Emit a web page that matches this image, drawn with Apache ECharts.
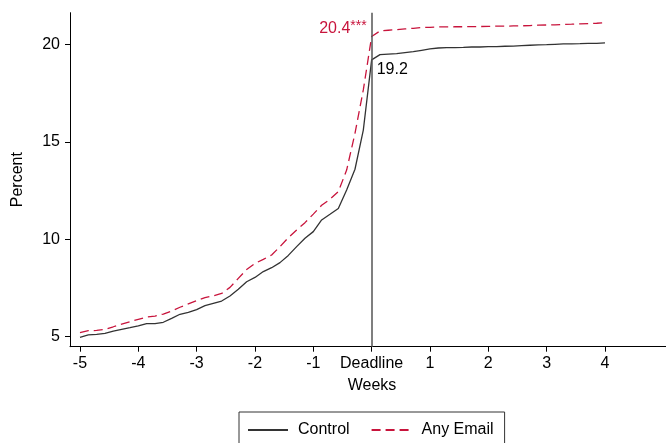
<!DOCTYPE html>
<html>
<head>
<meta charset="utf-8">
<script src="https://cdn.jsdelivr.net/npm/echarts@6/dist/echarts.min.js"></script>
<style>html,body{margin:0;padding:0;background:#fff}#c{width:666px;height:443px}</style>
</head>
<body>
<div id="c"></div>
<script>
// Days relative to the deadline (converted to weeks for the x axis)
const days = [-35,-34,-33,-32,-31,-30,-29,-28,-27,-26,-25,-24,-23,-22,-21,-20,-19,-18,-17,-16,-15,-14,-13,-12,-11,-10,-9,-8,-7,-6,-5,-4,-3,-2,-1,
  0,1,2,3,4,5,6,7,8,9,10,11,12,13,14,15,16,17,18,19,20,21,22,23,24,25,26,27,28];
const controlValues = [4.97,5.09,5.12,5.17,5.29,5.38,5.46,5.55,5.67,5.67,5.74,5.94,6.15,6.25,6.39,6.59,6.71,6.83,7.09,7.43,7.82,8.04,8.34,8.54,8.80,9.17,9.62,10.05,10.39,10.99,11.28,11.58,12.53,13.59,15.60,
  19.2,19.47,19.50,19.52,19.57,19.62,19.69,19.76,19.81,19.83,19.83,19.84,19.86,19.86,19.88,19.88,19.90,19.91,19.93,19.95,19.97,19.98,20.00,20.02,20.02,20.03,20.05,20.05,20.07];
const emailValues = [5.21,5.31,5.32,5.38,5.51,5.65,5.77,5.89,6.01,6.06,6.16,6.32,6.51,6.68,6.85,7.00,7.10,7.22,7.53,7.99,8.45,8.76,8.97,9.19,9.62,10.08,10.47,10.85,11.29,11.74,12.05,12.44,13.55,15.43,17.66,
  20.4,20.68,20.72,20.75,20.79,20.82,20.86,20.87,20.89,20.89,20.90,20.90,20.91,20.91,20.92,20.93,20.93,20.94,20.95,20.96,20.98,20.99,21.00,21.02,21.03,21.05,21.06,21.08,21.11];
const xTicks = [-5,-4,-3,-2,-1,0,1,2,3,4];
const xTickLabels = ['-5','-4','-3','-2','-1','Deadline','1','2','3','4'];
const yTicks = [5,10,15,20];
const seriesNames = ['Control','Any Email'];
const deadlineStars = '***';

const RED = '#c8143c';
const DARK = '#333333';
const FONT = '"Liberation Sans", Arial, Helvetica, sans-serif';

function build(values, isEmail) {
  return days.map((d, i) => {
    const item = { value: [d / 7, values[i]] };
    if (d === 0) {
      if (isEmail) {
        item.label = {
          show: true, position: 'left', distance: 5, offset: [0, -8],
          formatter: '{a|' + values[i].toFixed(1) + '}{b|' + deadlineStars + '}',
          rich: {
            a: { fontSize: 16, color: RED, fontFamily: FONT },
            b: { fontSize: 14, color: RED, fontFamily: FONT, padding: [0, 0, 5, 0] }
          }
        };
      } else {
        item.label = {
          show: true, position: 'right', distance: 5, offset: [0, 10],
          formatter: values[i].toFixed(1), fontSize: 16, color: '#000', fontFamily: FONT
        };
      }
    }
    return item;
  });
}

const chart = echarts.init(document.getElementById('c'), null, { renderer: 'canvas' });
chart.setOption({
  animation: false,
  backgroundColor: '#fff',
  grid: { left: 70, right: 0, top: 12.7, bottom: 96.3, containLabel: false },
  xAxis: {
    type: 'value', min: -5.171, max: 5.046,
    name: 'Weeks', nameLocation: 'middle', nameGap: 31,
    nameTextStyle: { fontSize: 16, color: '#000', fontFamily: FONT, padding: [0, 0, 0, 8] },
    axisLine: { show: true, onZero: false, lineStyle: { color: '#000', width: 1 } },
    axisTick: { show: true, customValues: xTicks, length: 5, lineStyle: { color: '#000' } },
    axisLabel: {
      customValues: xTicks, margin: 9, fontSize: 16, color: '#000', fontFamily: FONT,
      formatter: v => xTickLabels[xTicks.indexOf(Math.round(v))]
    },
    splitLine: { show: false }
  },
  yAxis: {
    type: 'value', min: 4.487, max: 21.62,
    name: 'Percent', nameLocation: 'middle', nameGap: 44,
    nameTextStyle: { fontSize: 16, color: '#000', fontFamily: FONT },
    axisLine: { show: true, onZero: false, lineStyle: { color: '#000', width: 1 } },
    axisTick: { show: true, customValues: yTicks, length: 5, lineStyle: { color: '#000' } },
    axisLabel: { customValues: yTicks, margin: 10, fontSize: 16, color: '#000', fontFamily: FONT },
    splitLine: { show: false }
  },
  legend: {
    data: seriesNames, top: 412, left: 239,
    padding: [10, 11, 10, 8], itemGap: 21, itemWidth: 40, itemHeight: 14,
    borderColor: '#333', borderWidth: 1,
    itemStyle: { color: 'transparent', borderWidth: 0, opacity: 0 },
    textStyle: { fontSize: 16, color: '#000', fontFamily: FONT, padding: [0, 0, 0, 5] }
  },
  series: [
    {
      name: seriesNames[0], type: 'line', symbol: 'circle', symbolSize: 0,
      showSymbol: true, showAllSymbol: true, data: build(controlValues, false),
      lineStyle: { color: DARK, width: 1.3 }, itemStyle: { color: DARK },
      z: 3,
      markLine: {
        silent: true, symbol: 'none', label: { show: false },
        lineStyle: { color: '#555', width: 1.5, type: 'solid' },
        data: [{ xAxis: 0 }]
      }
    },
    {
      name: seriesNames[1], type: 'line', symbol: 'circle', symbolSize: 0,
      showSymbol: true, showAllSymbol: true, data: build(emailValues, true),
      lineStyle: { color: RED, width: 1.3, type: [9, 5] }, itemStyle: { color: RED },
      z: 4
    }
  ]
});
</script>
</body>
</html>
